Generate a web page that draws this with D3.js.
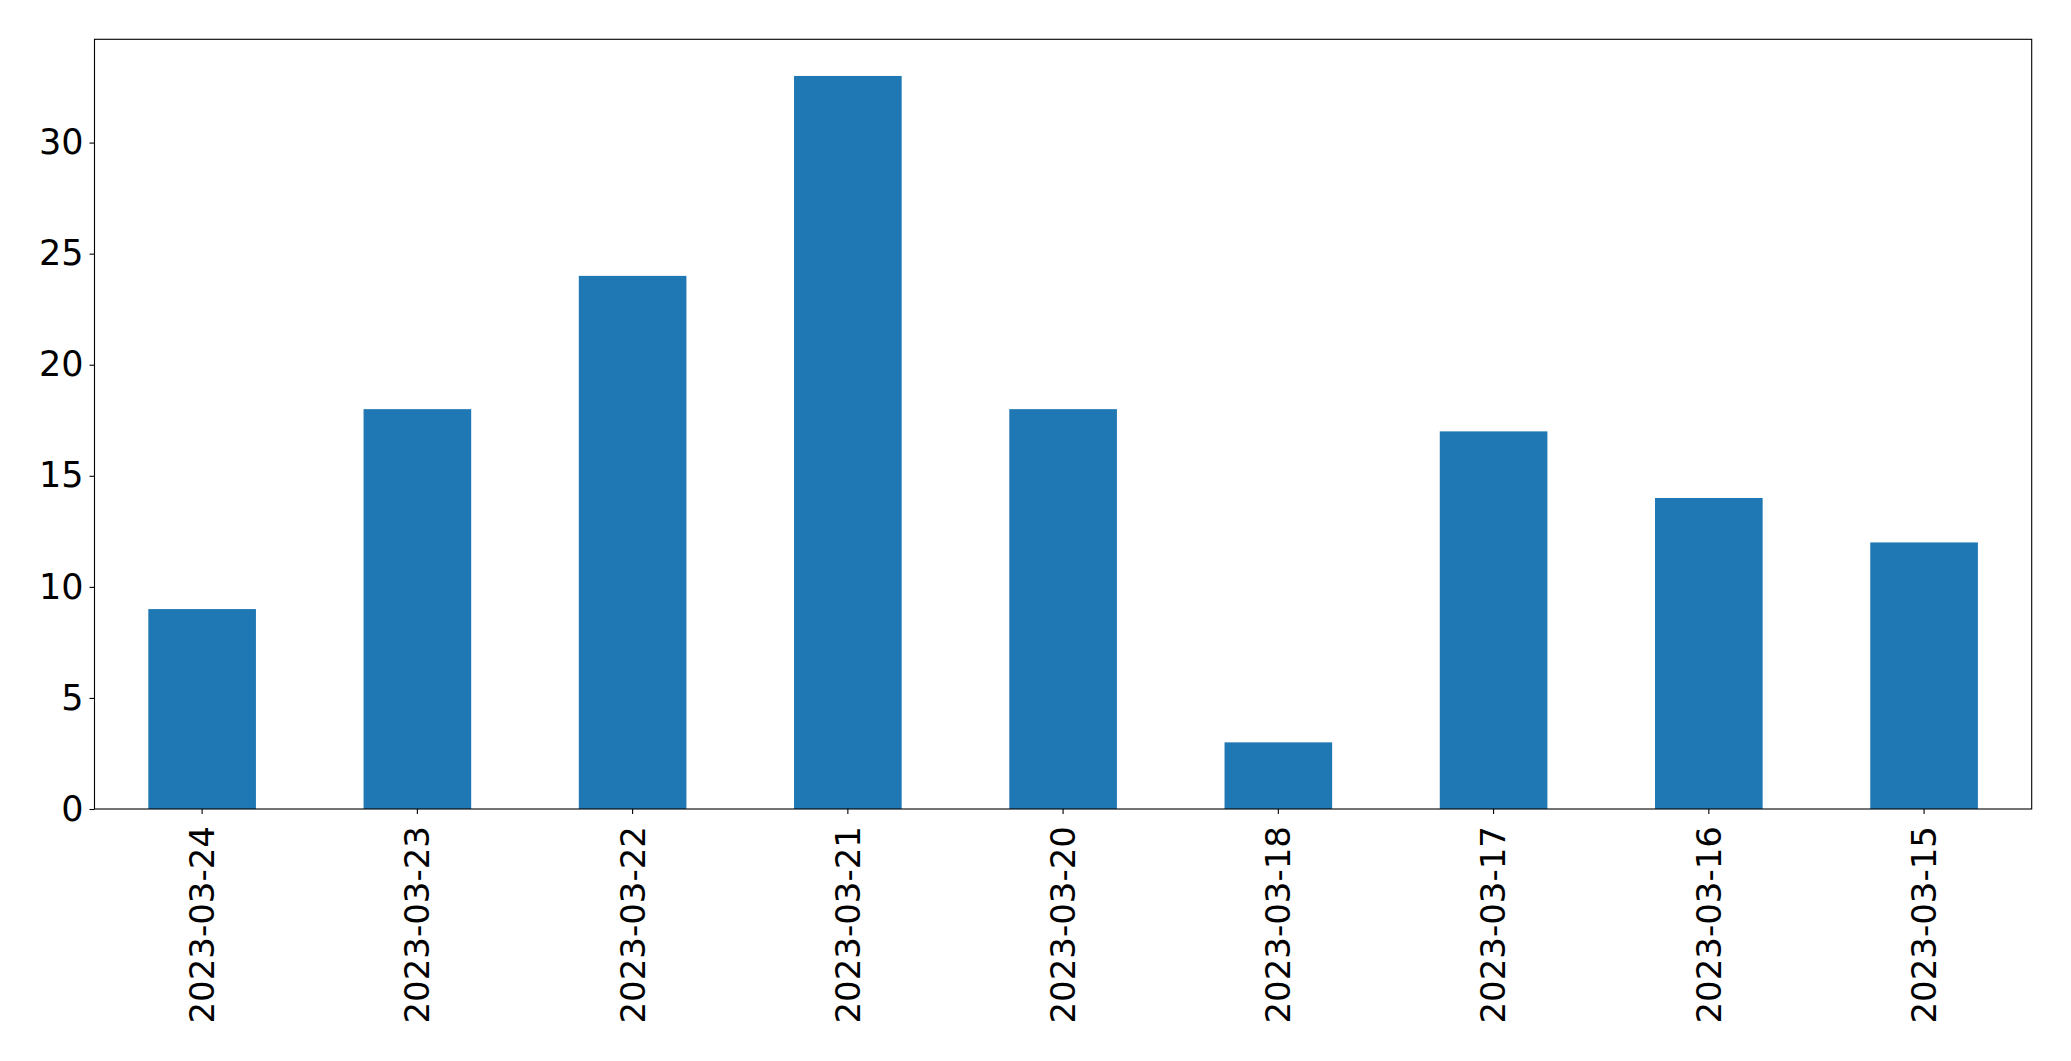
<!DOCTYPE html>
<html>
<head>
<meta charset="utf-8">
<script src="https://cdn.jsdelivr.net/npm/d3@7"></script>
<style>
  html, body { margin: 0; padding: 0; background: #fff; }
  svg { display: block; }
  text { font-family: "DejaVu Sans", sans-serif; fill: #000; }
</style>
</head>
<body>
<svg id="chart" width="2071" height="1061"></svg>
<script>
const categories = ["2023-03-24", "2023-03-23", "2023-03-22", "2023-03-21", "2023-03-20", "2023-03-18", "2023-03-17", "2023-03-16", "2023-03-15"];
const values = [9, 18, 24, 33, 18, 3, 17, 14, 12];
const yTicks = [0, 5, 10, 15, 20, 25, 30];

const svg = d3.select("#chart");
const margin = { left: 94.5, top: 39.3, right: 2071 - 2031.7, bottom: 1061 - 809 };
const W = 2071 - margin.left - margin.right;
const H = 1061 - margin.top - margin.bottom;
const yFontSize = 35;
const xFontSize = 34;
const tickLen = 5;

const g = svg.append("g").attr("transform", `translate(${margin.left},${margin.top})`);

const x = d3.scaleBand().domain(categories).range([0, W]).paddingInner(0.5).paddingOuter(0.25);
const y = d3.scaleLinear().domain([0, d3.max(values) * 1.05]).range([H, 0]);

g.selectAll("rect.bar")
  .data(values)
  .enter().append("rect")
  .attr("class", "bar")
  .attr("x", (d, i) => x(categories[i]))
  .attr("width", x.bandwidth())
  .attr("y", d => y(d))
  .attr("height", d => H - y(d))
  .attr("fill", "#1f77b4");

// Frame
g.append("rect")
  .attr("x", 0).attr("y", 0).attr("width", W).attr("height", H)
  .attr("fill", "none").attr("stroke", "#000").attr("stroke-width", 1.1);

// Y axis
const yAxis = g.append("g").call(d3.axisLeft(y).tickValues(yTicks).tickSize(tickLen).tickPadding(6).tickFormat(d3.format("d")));
yAxis.select(".domain").remove();
yAxis.selectAll("line").attr("stroke", "#000").attr("stroke-width", 1.1);
yAxis.selectAll("text").style("font-size", yFontSize + "px").style("font-family", "DejaVu Sans, sans-serif").attr("fill", "#000");

// X axis
const xAxis = g.append("g").attr("transform", `translate(0,${H})`).call(d3.axisBottom(x).tickSize(tickLen).tickPadding(0));
xAxis.select(".domain").remove();
xAxis.selectAll("line").attr("stroke", "#000").attr("stroke-width", 1.1);
xAxis.selectAll("text")
  .style("font-size", xFontSize + "px")
  .style("font-family", "DejaVu Sans, sans-serif")
  .attr("fill", "#000")
  .attr("text-anchor", "end")
  .attr("dy", "0.35em")
  .attr("transform", `translate(0,${tickLen + 12}) rotate(-90)`)
  .attr("x", 0).attr("y", 0);
</script>
</body>
</html>
